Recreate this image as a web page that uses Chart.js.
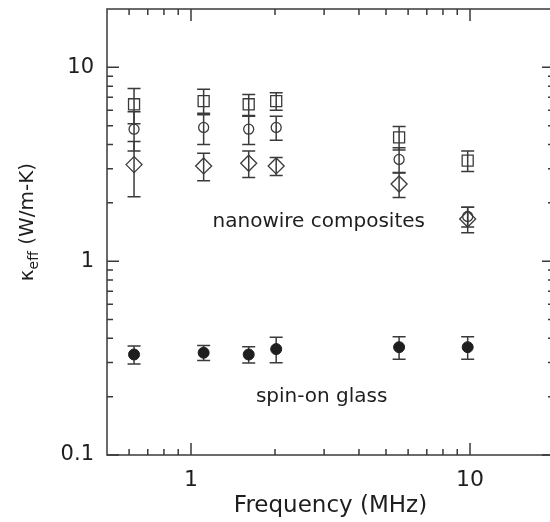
<!DOCTYPE html>
<html><head><meta charset="utf-8">
<script src="https://cdn.jsdelivr.net/npm/chart.js@4"></script>
<style>html,body{margin:0;padding:0;overflow:hidden;background:#fff}</style>
</head><body>
<canvas id="c" width="560" height="522"></canvas>
<script>
// ---- data ----
const frequencies = [0.625, 1.11, 1.61, 2.02, 5.57, 9.81];
const squareValues = [6.45, 6.7, 6.45, 6.7, 4.35, 3.3];
const squareErrors = [1.33, 1.0, 0.8, 0.7, 0.6, 0.4];
const circleValues = [4.8, 4.9, 4.8, 4.9, 3.35, 1.7];
const circleErrors = [1.1, 0.9, 0.8, 0.7, 0.5, 0.2];
const diamondValues = [3.15, 3.1, 3.2, 3.1, 2.5, 1.65];
const diamondErrors = [1.0, 0.5, 0.5, 0.33, 0.37, 0.25];
const glassValues = [0.33, 0.337, 0.33, 0.352, 0.36, 0.36];
const glassErrors = [0.035, 0.03, 0.032, 0.053, 0.048, 0.048];
const xMajorTicks = [1, 10];
const xMinorTicks = [0.6, 0.7, 0.8, 0.9, 2, 3, 4, 5, 6, 7, 8, 9];
const yMajorTicks = [0.1, 1, 10];
const yMinorTicks = [0.2, 0.3, 0.4, 0.5, 0.6, 0.7, 0.8, 0.9, 2, 3, 4, 5, 6, 7, 8, 9];
const annotations = [
  {text: 'nanowire composites', x: 2.87, y: 1.6},
  {text: 'spin-on glass', x: 2.94, y: 0.2}
];

const FONT = '"DejaVu Sans", sans-serif';
const INK = '#3a3a3a';
const TXT = '#1e1e1e';

function pts(vals) { return frequencies.map((f, i) => ({x: f, y: vals[i]})); }

const frame = {
  id: 'frame',
  beforeDatasetsDraw(chart) {
    const ctx = chart.ctx, xs = chart.scales.x, ys = chart.scales.y;
    ctx.save();
    ctx.strokeStyle = INK; ctx.lineWidth = 1.5;
    chart.data.datasets.forEach(ds => {
      ds.data.forEach((p, i) => {
        const e = ds.errors[i];
        const px = xs.getPixelForValue(p.x);
        const t = ys.getPixelForValue(p.y + e), b = ys.getPixelForValue(p.y - e);
        ctx.beginPath();
        ctx.moveTo(px, t); ctx.lineTo(px, b);
        ctx.moveTo(px - 6.5, t); ctx.lineTo(px + 6.5, t);
        ctx.moveTo(px - 6.5, b); ctx.lineTo(px + 6.5, b);
        ctx.stroke();
      });
    });
    ctx.restore();
  },
  afterDraw(chart) {
    const ctx = chart.ctx, a = chart.chartArea, xs = chart.scales.x, ys = chart.scales.y;
    ctx.save();
    ctx.strokeStyle = INK; ctx.lineWidth = 1.5;
    ctx.strokeRect(a.left, a.top, a.right - a.left, a.bottom - a.top);
    ctx.beginPath();
    const xt = (vals, len) => vals.forEach(v => {
      const px = xs.getPixelForValue(v);
      ctx.moveTo(px, a.bottom); ctx.lineTo(px, a.bottom - len);
      ctx.moveTo(px, a.top); ctx.lineTo(px, a.top + len);
    });
    const yt = (vals, len) => vals.forEach(v => {
      const py = ys.getPixelForValue(v);
      ctx.moveTo(a.left, py); ctx.lineTo(a.left + len, py);
      ctx.moveTo(a.right, py); ctx.lineTo(a.right - len, py);
    });
    xt(xMajorTicks, 12); xt(xMinorTicks, 6);
    yt(yMajorTicks, 12); yt(yMinorTicks, 6);
    ctx.stroke();
    ctx.fillStyle = TXT;
    ctx.font = '20px ' + FONT;
    ctx.textAlign = 'center'; ctx.textBaseline = 'middle';
    annotations.forEach(t => ctx.fillText(t.text, xs.getPixelForValue(t.x), ys.getPixelForValue(t.y)));
    // y-axis title with subscript
    ctx.translate(33, 222);
    ctx.rotate(-Math.PI / 2);
    ctx.textAlign = 'left'; ctx.textBaseline = 'alphabetic';
    const f1 = '20px ' + FONT, f2 = '14px ' + FONT;
    ctx.font = f1; const w1 = ctx.measureText('\u03BA').width;
    ctx.font = f2; const w2 = ctx.measureText('eff').width;
    ctx.font = f1; const w3 = ctx.measureText(' (W/m-K)').width;
    let x0 = -(w1 + w2 + w3) / 2;
    ctx.font = f1; ctx.fillText('\u03BA', x0, 0); x0 += w1;
    ctx.font = f2; ctx.fillText('eff', x0, 5); x0 += w2;
    ctx.font = f1; ctx.fillText(' (W/m-K)', x0, 0);
    ctx.restore();
  }
};

new Chart(document.getElementById('c'), {
  type: 'scatter',
  data: {
    datasets: [
      {data: pts(squareValues), errors: squareErrors, pointStyle: 'rect', pointRadius: 7.8,
       borderColor: INK, backgroundColor: 'rgba(0,0,0,0)', borderWidth: 1.3},
      {data: pts(circleValues), errors: circleErrors, pointStyle: 'circle', pointRadius: 5,
       borderColor: INK, backgroundColor: 'rgba(0,0,0,0)', borderWidth: 1.3},
      {data: pts(diamondValues), errors: diamondErrors, pointStyle: 'rectRot', pointRadius: 8,
       borderColor: INK, backgroundColor: 'rgba(0,0,0,0)', borderWidth: 1.3},
      {data: pts(glassValues), errors: glassErrors, pointStyle: 'circle', pointRadius: 5.5,
       borderColor: '#1e1e1e', backgroundColor: '#1e1e1e', borderWidth: 1}
    ]
  },
  options: {
    responsive: false,
    animation: false,
    layout: {autoPadding: false, padding: {left: 0, top: 9, right: 6, bottom: 0}},
    plugins: {legend: {display: false}, tooltip: {enabled: false}},
    scales: {
      x: {
        type: 'logarithmic', min: 0.5, max: 20, position: 'bottom',
        grid: {display: false, drawTicks: false},
        border: {display: false},
        afterBuildTicks: s => { s.ticks = xMajorTicks.map(v => ({value: v})); },
        afterFit: s => { s.height = 67; s.paddingLeft = 0; s.paddingRight = 0; },
        ticks: {autoSkip: false, maxRotation: 0, padding: 12, color: TXT,
                font: {family: FONT, size: 22}, callback: v => String(v)},
        title: {display: true, text: 'Frequency (MHz)', color: TXT,
                font: {family: FONT, size: 23}, padding: {top: 0, bottom: 2}}
      },
      y: {
        type: 'logarithmic', min: 0.1, max: 20,
        grid: {display: false, drawTicks: false},
        border: {display: false},
        afterBuildTicks: s => { s.ticks = yMajorTicks.map(v => ({value: v})); },
        afterFit: s => { s.width = 107; s.paddingTop = 0; s.paddingBottom = 0; },
        ticks: {autoSkip: false, padding: 13, color: TXT,
                font: {family: FONT, size: 21}, callback: v => String(v)}
      }
    }
  },
  plugins: [frame]
});
</script>
</body></html>
